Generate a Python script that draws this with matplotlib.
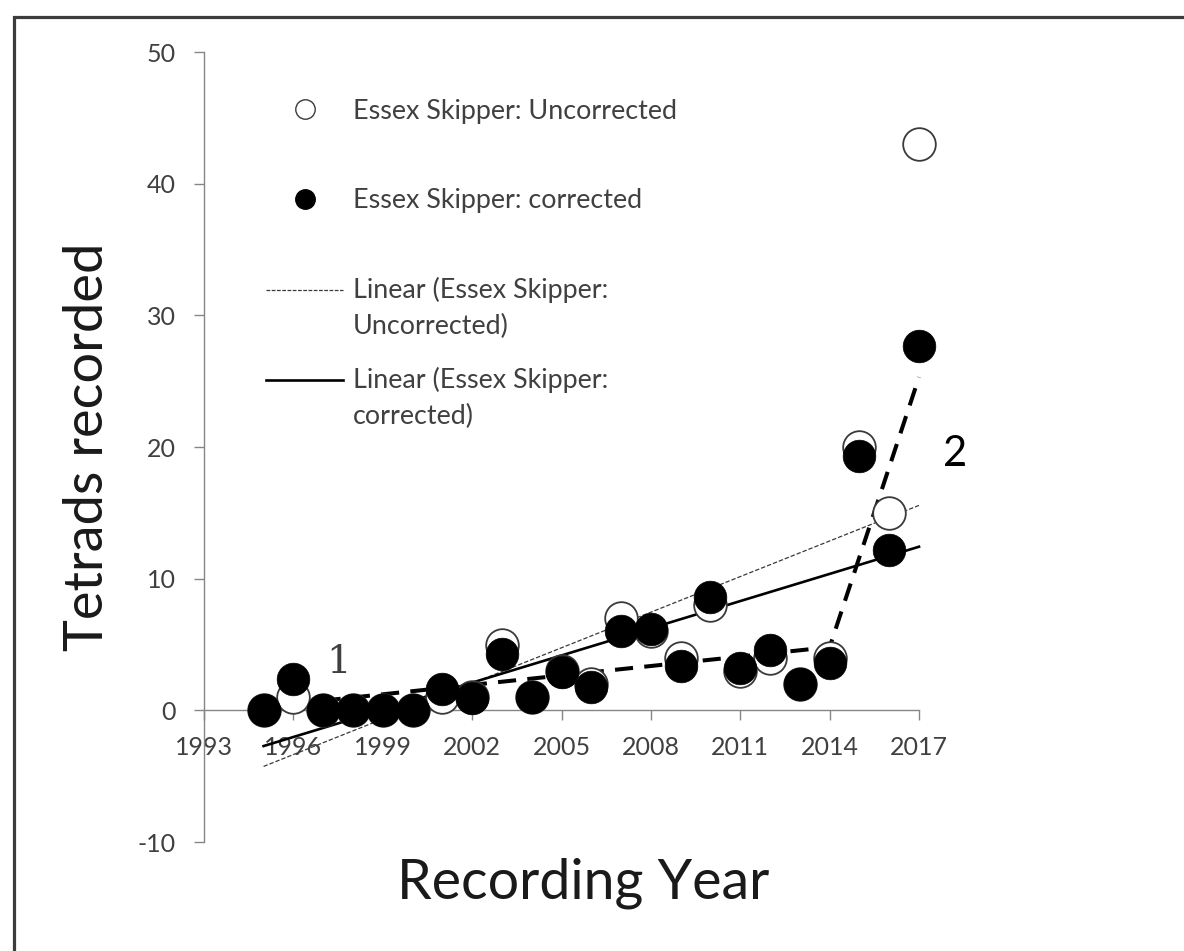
import numpy as np
import matplotlib
matplotlib.use("Agg")
import matplotlib.pyplot as plt
from matplotlib.lines import Line2D
from matplotlib.patches import Rectangle
from matplotlib.legend_handler import HandlerLine2D

plt.rcParams['font.family'] = ['Lato', 'DejaVu Sans']
plt.rcParams['axes.unicode_minus'] = False

# Essex Skipper tetrad counts per recording year
years = np.arange(1995, 2018)
uncorrected = [0, 1, 0, 0, 0, 0, 1, 1, 5, 1, 3, 2, 7, 6, 4, 8, 3, 4, 2, 4, 20, 15, 43]
corrected = [0, 2.4, 0, 0, 0, 0, 1.6, 0.9, 4.3, 1.0, 2.9, 1.8, 6.0, 6.2, 3.4, 8.6,
             3.2, 4.6, 2.0, 3.6, 19.3, 12.2, 27.7]

# two-phase (broken stick) line through the corrected series
phase_years = [1996, 2014, 2017]
phase_values = [0.5, 4.8, 25.3]

xticks = np.arange(1993, 2018, 3)
yticks = np.arange(-10, 51, 10)

axis_grey = '#868686'
text_grey = '#404040'


class FirstLineHandler(HandlerLine2D):
    """Put the legend line level with the first line of a two-line label."""
    def __init__(self, shift, **kw):
        super().__init__(**kw)
        self.shift = shift

    def create_artists(self, legend, orig_handle, xdescent, ydescent,
                       width, height, fontsize, trans):
        arts = super().create_artists(legend, orig_handle, xdescent, ydescent,
                                      width, height, fontsize, trans)
        for a in arts:
            a.set_ydata(np.asarray(a.get_ydata()) + self.shift)
        return arts


fig = plt.figure(figsize=(11.84, 9.51), dpi=100)
ax = fig.add_axes([204 / 1184, 1 - 842 / 951, 715 / 1184, 790 / 951])

# linear trends
fit_u = np.polyfit(years, uncorrected, 1)
fit_c = np.polyfit(years, corrected, 1)
ax.plot(years, np.polyval(fit_u, years), color='#3a3a3a', lw=0.9,
        dashes=(3.5, 1.6), zorder=2, clip_on=False)
ax.plot(years, np.polyval(fit_c, years), color='black', lw=1.9, zorder=2,
        clip_on=False)
ax.plot(phase_years, phase_values, color='black', lw=2.9, dashes=(4.5, 2.8),
        zorder=2, clip_on=False)

ax.plot(years, uncorrected, 'o', ms=23.5, mfc='white', mec='#3a3a3a', mew=1.3,
        zorder=3, clip_on=False)
ax.plot(years, corrected, 'o', ms=23.5, mfc='black', mec='black', mew=0.5,
        zorder=4, clip_on=False)

ax.text(1997.5, 3.65, '1', family='DejaVu Serif', fontsize=28,
        color=text_grey, ha='center', va='center')
ax.text(2018.2, 19.5, '2', fontsize=30, color='black', ha='center',
        va='center')

ax.set_xlim(1993, 2017)
ax.set_ylim(-10, 50)
ax.set_xticks(xticks)
ax.set_yticks(yticks)

for side in ('top', 'right'):
    ax.spines[side].set_visible(False)
for side in ('left', 'bottom'):
    ax.spines[side].set_color(axis_grey)
    ax.spines[side].set_linewidth(1.0)
ax.spines['bottom'].set_position(('data', 0))
ax.tick_params(axis='both', direction='out', length=7.2, width=1.0,
               color=axis_grey, labelcolor=text_grey, labelsize=18)
ax.tick_params(axis='x', pad=11)
ax.tick_params(axis='y', pad=13)

ax.set_ylabel('Tetrads recorded', fontsize=39, color='#1a1a1a')
ax.yaxis.set_label_coords(-0.128, 0.5)
ax.set_xlabel('Recording Year', fontsize=40, color='#1a1a1a')
ax.xaxis.set_label_coords(0.53, -0.02)

# legend: markers, then the two trend lines
marker_handles = [
    Line2D([], [], marker='o', ls='none', ms=14, mfc='white', mec='#3a3a3a', mew=1.0),
    Line2D([], [], marker='o', ls='none', ms=14, mfc='black', mec='black'),
]
leg_a = ax.legend(marker_handles,
                  ['Essex Skipper: Uncorrected', 'Essex Skipper: corrected'],
                  loc='upper left', bbox_to_anchor=(0.087, 0.941), frameon=False,
                  fontsize=19.4, labelcolor=text_grey, handlelength=2.85,
                  handletextpad=0.37, borderpad=0, borderaxespad=0,
                  labelspacing=2.4)
ax.add_artist(leg_a)

line_handles = [
    Line2D([], [], color='#3a3a3a', lw=0.9, dashes=(3.0, 1.2)),
    Line2D([], [], color='black', lw=1.9),
]
leg_b = ax.legend(line_handles,
                  ['Linear (Essex Skipper:\nUncorrected)',
                   'Linear (Essex Skipper:\ncorrected)'],
                  loc='upper left', bbox_to_anchor=(0.087, 0.715), frameon=False,
                  fontsize=19.4, labelcolor=text_grey, handlelength=2.85,
                  handletextpad=0.37, borderpad=0, borderaxespad=0,
                  labelspacing=1.06,
                  handler_map={h: FirstLineHandler(13.3) for h in line_handles})
for t in leg_b.get_texts():
    t.set_linespacing(1.52)

# outer frame
fig.patches.append(Rectangle((14 / 1184, -0.05), 1.2, 1 - 17 / 951 + 0.05,
                             transform=fig.transFigure, fill=False,
                             edgecolor='#3c3c3c', lw=2.3))

fig.savefig('out.png', dpi=100)
